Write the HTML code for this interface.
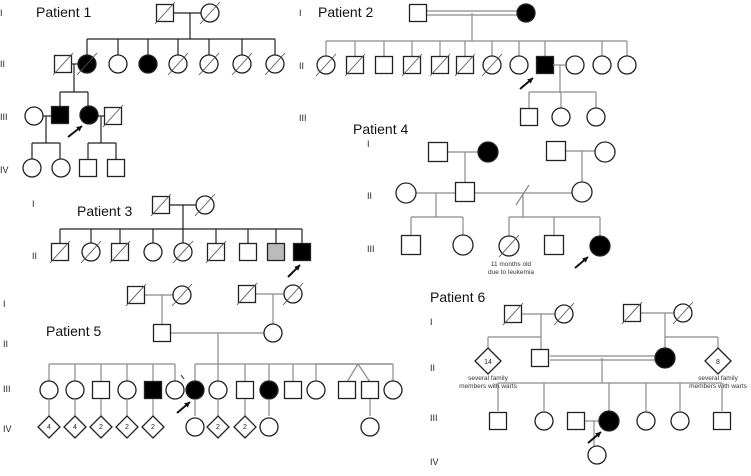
<!DOCTYPE html>
<html><head><meta charset="utf-8"><style>
html,body{margin:0;padding:0;background:#fff;}
svg{display:block;}
text{font-family:"Liberation Sans",sans-serif;}
.t{font-size:14px;fill:#111;}
.r{font-size:9px;fill:#222;}
.s{font-size:6.5px;fill:#333;}
.d{font-size:7px;fill:#222;}
</style></head><body>
<svg id="g" width="751" height="476" viewBox="0 0 751 476" xmlns="http://www.w3.org/2000/svg">
<text class="t" x="36" y="17">Patient 1</text>
<text class="t" x="318" y="17">Patient 2</text>
<text class="t" x="77" y="216">Patient 3</text>
<text class="t" x="353" y="134">Patient 4</text>
<text class="t" x="46" y="336">Patient 5</text>
<text class="t" x="430" y="302">Patient 6</text>
<text class="r" x="0" y="16">I</text><text class="r" x="0" y="67">II</text><text class="r" x="0" y="120">III</text><text class="r" x="0" y="173">IV</text>
<text class="r" x="299" y="16">I</text><text class="r" x="299" y="69">II</text><text class="r" x="299" y="121">III</text>
<text class="r" x="367" y="147">I</text><text class="r" x="367" y="199">II</text><text class="r" x="367" y="252">III</text>
<text class="r" x="32" y="207">I</text><text class="r" x="32" y="259">II</text>
<text class="r" x="3" y="307">I</text><text class="r" x="3" y="347">II</text><text class="r" x="3" y="392">III</text><text class="r" x="3" y="432">IV</text>
<text class="r" x="430" y="325">I</text><text class="r" x="430" y="371">II</text><text class="r" x="430" y="421">III</text><text class="r" x="430" y="465">IV</text>
<text class="s" x="511" y="266" text-anchor="middle">11 months old</text>
<text class="s" x="511" y="274" text-anchor="middle">due to leukemia</text>
<text class="s" x="488" y="380" text-anchor="middle">several family</text>
<text class="s" x="488" y="388" text-anchor="middle">members with warts</text>
<text class="s" x="718" y="380" text-anchor="middle">several family</text>
<text class="s" x="718" y="388" text-anchor="middle">members with warts</text>
<g id="sh"></g>
<text class="d" x="488" y="364" text-anchor="middle">14</text>
<text class="d" x="718" y="364" text-anchor="middle">8</text>
<text class="d" x="49" y="429" text-anchor="middle">4</text>
<text class="d" x="75" y="429" text-anchor="middle">4</text>
<text class="d" x="101" y="429" text-anchor="middle">2</text>
<text class="d" x="127" y="429" text-anchor="middle">2</text>
<text class="d" x="153" y="429" text-anchor="middle">2</text>
<text class="d" x="218" y="429" text-anchor="middle">2</text>
<text class="d" x="245" y="429" text-anchor="middle">2</text>
</svg>
<script>
var S='',G='#8a8a8a',B='#222';
function ln(a,b,c,d,col){S+='<line x1="'+a+'" y1="'+b+'" x2="'+c+'" y2="'+d+'" stroke="'+(col||G)+'" stroke-width="1.2"/>';}
function sl(x,y){S+='<line x1="'+(x-10)+'" y1="'+(y+11)+'" x2="'+(x+10)+'" y2="'+(y-11)+'" stroke="#555" stroke-width="0.9"/>';}
function sq(x,y,f,s,h){h=h||8.5;S+='<rect x="'+(x-h)+'" y="'+(y-h)+'" width="'+(2*h)+'" height="'+(2*h)+'" fill="'+(f||'#fff')+'" stroke="'+B+'" stroke-width="1.3"/>';if(s)sl(x,y);}
function ci(x,y,f,s,r){r=r||9;S+='<circle cx="'+x+'" cy="'+y+'" r="'+r+'" fill="'+(f||'#fff')+'" stroke="'+B+'" stroke-width="1.3"/>';if(s)sl(x,y);}
function di(x,y,h){h=h||11;S+='<polygon points="'+x+','+(y-h)+' '+(x+h)+','+y+' '+x+','+(y+h)+' '+(x-h)+','+y+'" fill="#fff" stroke="'+B+'" stroke-width="1.3"/>';}
function ar(x1,y1,x2,y2){S+='<line x1="'+x1+'" y1="'+y1+'" x2="'+x2+'" y2="'+y2+'" stroke="#111" stroke-width="2"/>';var a=Math.atan2(y2-y1,x2-x1),L=6;S+='<polygon points="'+x2+','+y2+' '+(x2-L*Math.cos(a-0.5))+','+(y2-L*Math.sin(a-0.5))+' '+(x2-L*Math.cos(a+0.5))+','+(y2-L*Math.sin(a+0.5))+'" fill="#111"/>';}
function sib(y,xs,yb,col){ln(Math.min.apply(0,xs),y,Math.max.apply(0,xs),y,col);xs.forEach(function(x){ln(x,y,x,yb,col)});}
var K='#222',F='#000';
// Patient 1
ln(174,13,201,13,K);ln(190,13,190,39,K);sib(39,[87,118,148,178,209,242,275],55,K);
sq(165,13,0,1);ci(210,13,0,1);
ln(72,64,78,64,K);ln(74,64,74,92,K);sib(92,[60,88],107,K);
sq(63,64,0,1);ci(87,64,F,1);ci(118,64);ci(148,64,F);[178,209,242,275].forEach(function(x){ci(x,64,0,1)});
ln(43,116,52,116,K);ln(98,116,105,116,K);ln(46,116,46,143,K);sib(143,[32,60],159,K);ln(101,116,101,143,K);sib(143,[88,116],160,K);
ci(34,116);sq(60,115,F);ci(89,115,F);sq(113,116,0,1);
ci(32,168);ci(61,168);sq(88,168);sq(116,168);ar(68,137,82,126);
// Patient 2
ln(427,11,517,11);ln(427,15,517,15);ln(472,13,472,41);sib(41,[326,355,384,412,440,465,492,519,545,602,627],56);
sq(418,13);ci(526,13,F);
ci(326,65,0,1);sq(355,65,0,1);sq(384,65);sq(412,65,0,1);sq(440,65,0,1);sq(465,65,0,1);ci(492,65,0,1);ci(519,65);sq(545,65,F);ci(575,65);ci(602,65);ci(627,65);
ln(553,65,566,65);ln(560,65,560,92);sib(92,[529,561,596],108);sq(529,117);ci(561,117);ci(596,117);ar(520,89,533,78);
// Patient 4
ln(447,152,478,152);ln(465,152,465,183);sq(438,152,0,0,9.5);ci(488,152,F,0,10);
ln(565,151,596,151);ln(582,151,582,183);sq(556,151,0,0,9.5);ci(605,152,0,0,10);
ln(415,193,456,193);ln(436,193,436,217);sib(217,[411,463],235);
ln(475,193,573,193);ln(516,205,529,185);ln(523,193,523,217);sib(217,[509,554,600],236);
ci(406,193,0,0,10);sq(465,192,0,0,9.5);ci(582,192,0,0,10);
sq(411,245,0,0,9.5);ci(463,245,0,0,10);ci(509,246,0,1,10);sq(554,245,0,0,9.5);ci(600,246,F,0,10);ar(575,268,588,257);
// Patient 3
ln(170,205,196,205,K);ln(183,205,183,229,K);sib(229,[60,91,120,153,183,216,248,276,302],244,K);
sq(161,205,0,1);ci(205,205,0,1);
sq(60,252,0,1);ci(91,252,0,1);sq(120,252,0,1);ci(153,252);ci(183,252,0,1);sq(216,252,0,1);sq(248,252);sq(276,252,'#bbb');sq(302,252,F);ar(288,277,300,265);
// Patient 5
ln(145,295,173,295);ln(162,295,162,325);sq(136,295,0,1);ci(182,295,0,1);
ln(256,294,284,294);ln(273,294,273,324);sq(247,294,0,1);ci(293,294,0,1);
ln(171,333,264,333);ln(218,333,218,364);sq(162,333);ci(273,333);
sib(364,[49,75,101,127,153,175],381);sib(364,[195,218,245,269,293,316,393],381);ln(316,364,393,364);
ln(358,364,347,382);ln(358,364,370,382);ln(181,375,184,379,'#444');
ci(49,390);ci(75,390);sq(101,390);ci(127,390);sq(153,390,F);ci(175,390);ci(195,390,F);ci(218,390);sq(245,390);ci(269,390,F);sq(293,390);ci(316,390);sq(347,390);sq(370,390);ci(393,390);
[49,75,101,127,153,195,218,245,269,370].forEach(function(x){ln(x,399,x,416)});
[49,75,101,127,153,218,245].forEach(function(x){di(x,427)});ci(195,427);ci(269,427);ci(370,427);ar(177,413,190,402);
// Patient 6
ln(522,314,555,314);ln(541,314,541,349);ln(488,337,541,337);ln(488,337,488,350);sq(513,314,0,1);ci(564,314,0,1);
ln(641,313,674,313);ln(665,313,665,348);ln(665,337,718,337);ln(718,337,718,350);sq(632,313,0,1);ci(683,313,0,1);
ln(550,356,655,356);ln(550,360,655,360);ln(602,358,602,383);sib(383,[498,544,609,646,680,722],411);
di(488,361,13);di(718,361,13);sq(540,358);ci(665,358,F,0,10);
ln(585,421,599,421);ln(594,421,594,446);
sq(498,421);ci(544,421);sq(576,421);ci(609,421,F,0,10);ci(646,421);ci(680,421);sq(722,421);ci(597,455);ar(588,443,601,432);
document.getElementById('sh').innerHTML=S;
</script>
</body></html>
